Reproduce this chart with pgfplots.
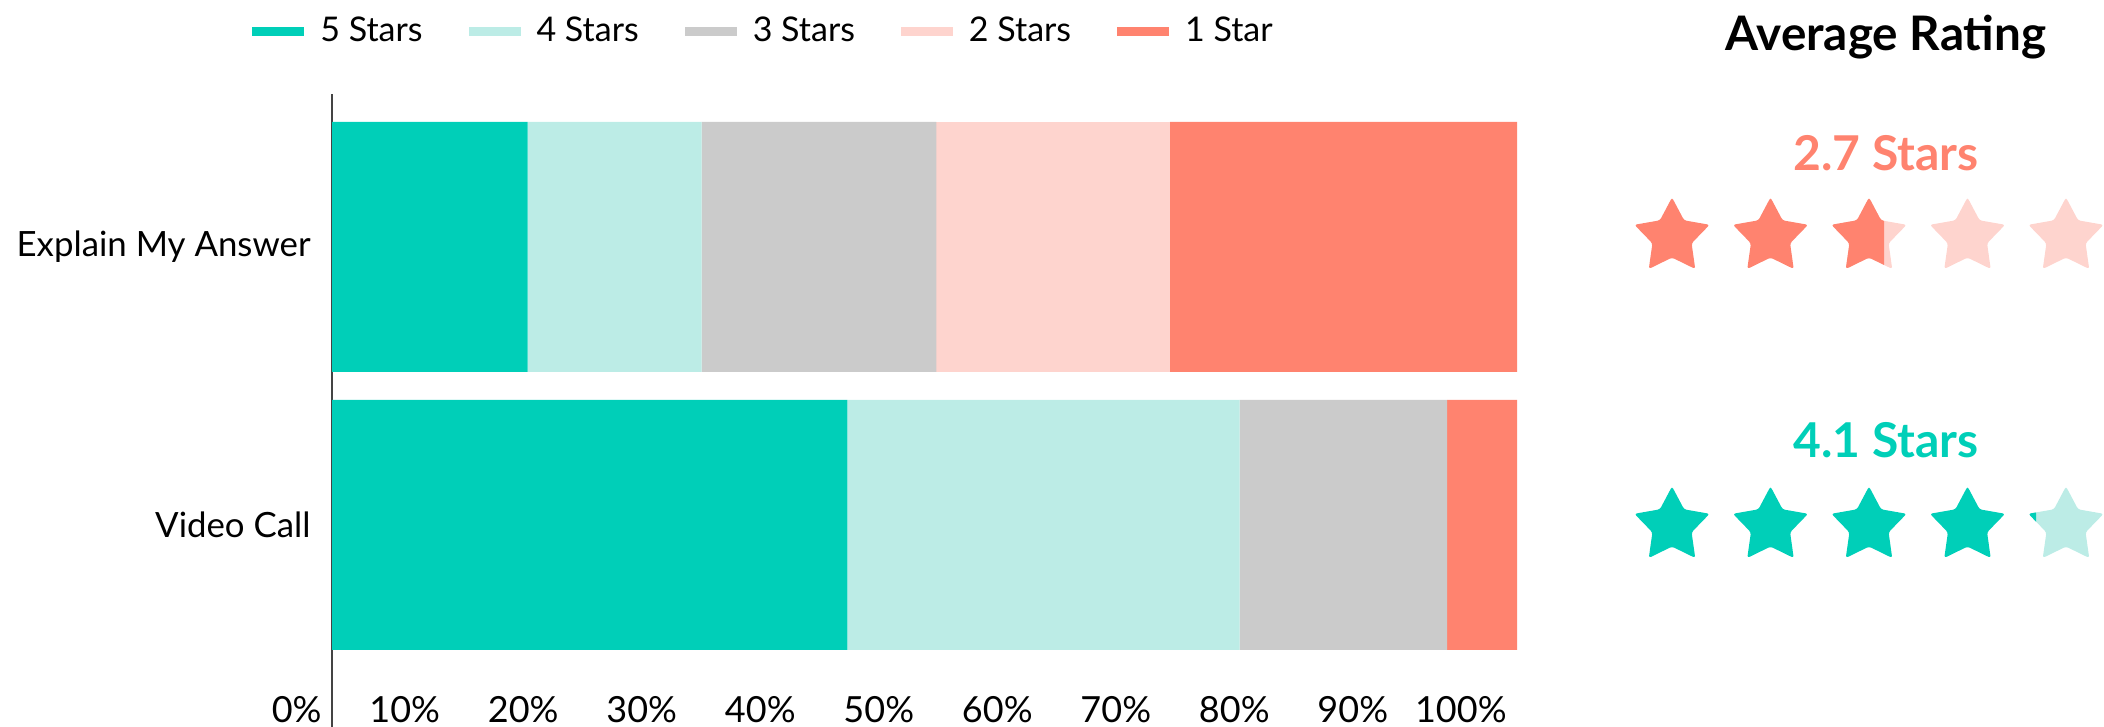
\documentclass[border=0pt]{standalone}
\usepackage{fontspec}
\setmainfont{Lato}
\usepackage{pgfplots}
\pgfplotsset{compat=1.18}
\definecolor{cA}{HTML}{00CFB8}
\definecolor{cB}{HTML}{BCECE6}
\definecolor{cC}{HTML}{CBCBCB}
\definecolor{cD}{HTML}{FED4CE}
\definecolor{cE}{HTML}{FF836F}
\definecolor{axgray}{HTML}{444444}
\newcommand\starpath{%
  \pgfsetcornersarced{\pgfpoint{1.2pt}{1.2pt}}%
  \pgfpathmoveto{\pgfpointpolar{90}{19.75pt}}%
  \pgfpathlineto{\pgfpointpolar{126}{10.3pt}}%
  \pgfpathlineto{\pgfpointpolar{162}{19.75pt}}%
  \pgfpathlineto{\pgfpointpolar{198}{10.3pt}}%
  \pgfpathlineto{\pgfpointpolar{234}{19.75pt}}%
  \pgfpathlineto{\pgfpointpolar{270}{10.3pt}}%
  \pgfpathlineto{\pgfpointpolar{306}{19.75pt}}%
  \pgfpathlineto{\pgfpointpolar{342}{10.3pt}}%
  \pgfpathlineto{\pgfpointpolar{18}{19.75pt}}%
  \pgfpathlineto{\pgfpointpolar{54}{10.3pt}}%
  \pgfpathclose}
\pgfdeclareplotmark{fstar}{\starpath\pgfusepath{fill}}
\pgfdeclareplotmark{fstarA}{\begin{pgfscope}\pgfpathrectangle{\pgfpoint{-20pt}{-25pt}}{\pgfpoint{27.5pt}{50pt}}\pgfusepath{clip}\starpath\pgfusepath{fill}\end{pgfscope}}
\pgfdeclareplotmark{fstarB}{\begin{pgfscope}\pgfpathrectangle{\pgfpoint{-20pt}{-25pt}}{\pgfpoint{5pt}{50pt}}\pgfusepath{clip}\starpath\pgfusepath{fill}\end{pgfscope}}
\pgfplotsset{mylegimg/.style={legend image code/.code={\fill[##1,draw=none] (0pt,-2.25pt) rectangle (26pt,2.25pt);}}}
\begin{document}
\begin{tikzpicture}
\path[use as bounding box, clip] (0,0) rectangle (1052pt,363.5pt);
\begin{axis}[
  at={(166pt,0pt)}, anchor=south west, scale only axis,
  width=592.5pt, height=316.5pt,
  xbar stacked, bar width=0.9,
  xmin=0, xmax=100, ymin=-0.727, ymax=1.55,
  ytick={0,1}, yticklabels={Video Call,Explain My Answer},
  xtick={0,10,...,100},
  xticklabels={0\%,10\%,20\%,30\%,40\%,50\%,60\%,70\%,80\%,90\%,100\%},
  axis lines=left, axis line style={-},
  x axis line style={draw=none},
  y axis line style={draw=axgray, line width=1pt},
  major tick length=0pt,
  xticklabel style={anchor=base east, inner sep=0pt, xshift=-5pt, yshift=2pt, font=\fontsize{18}{20}\selectfont},
  yticklabel style={anchor=east, inner sep=0pt, xshift=-10.5pt, font=\fontsize{17.4}{20}\selectfont},
  every axis plot post/.append style={mylegimg},
  legend columns=5,
  legend style={draw=none, fill=none, inner sep=0pt, at={(axis description cs:-0.0675,1.0995)}, anchor=west,
    font=\fontsize{17}{19}\selectfont,
    /tikz/every odd column/.append style={column sep=6pt},
    /tikz/every even column/.append style={column sep=21pt}},
  clip=false,
]
\addplot[fill=cA, draw=none] coordinates {(16.5,1) (43.5,0)};
\addplot[fill=cB, draw=none] coordinates {(14.7,1) (33.1,0)};
\addplot[fill=cC, draw=none] coordinates {(19.8,1) (17.5,0)};
\addplot[fill=cD, draw=none] coordinates {(19.7,1) (0,0)};
\addplot[fill=cE, draw=none] coordinates {(29.3,1) (5.9,0)};
\legend{5 Stars,4 Stars,3 Stars,2 Stars,1 Star}
\end{axis}
\begin{axis}[
  at={(786.75pt,0pt)}, anchor=south west, scale only axis,
  width=265.25pt, height=363.5pt,
  xmin=0, xmax=5.386, ymin=0, ymax=727,
  hide axis, clip=false,
]
\addplot[only marks, mark=fstar, mark options={fill=cE, draw=none}] coordinates {(1,490) (2,490)};
\addplot[only marks, mark=fstar, mark options={fill=cD, draw=none}] coordinates {(3,490) (4,490) (5,490)};
\addplot[only marks, mark=fstarA, mark options={fill=cE, draw=none}] coordinates {(3,490)};
\addplot[only marks, mark=fstar, mark options={fill=cA, draw=none}] coordinates {(1,201) (2,201) (3,201) (4,201)};
\addplot[only marks, mark=fstar, mark options={fill=cB, draw=none}] coordinates {(5,201)};
\addplot[only marks, mark=fstarB, mark options={fill=cA, draw=none}] coordinates {(5,201)};
\node[font=\fontsize{23.8}{26}\selectfont\bfseries] at (axis cs:3.173,690) {Average Rating};
\node[font=\fontsize{24}{26}\selectfont\bfseries, text=cE] at (axis cs:3.173,574) {2.7 Stars};
\node[font=\fontsize{24}{26}\selectfont\bfseries, text=cA] at (axis cs:3.173,287) {4.1 Stars};
\end{axis}
\end{tikzpicture}
\end{document}
